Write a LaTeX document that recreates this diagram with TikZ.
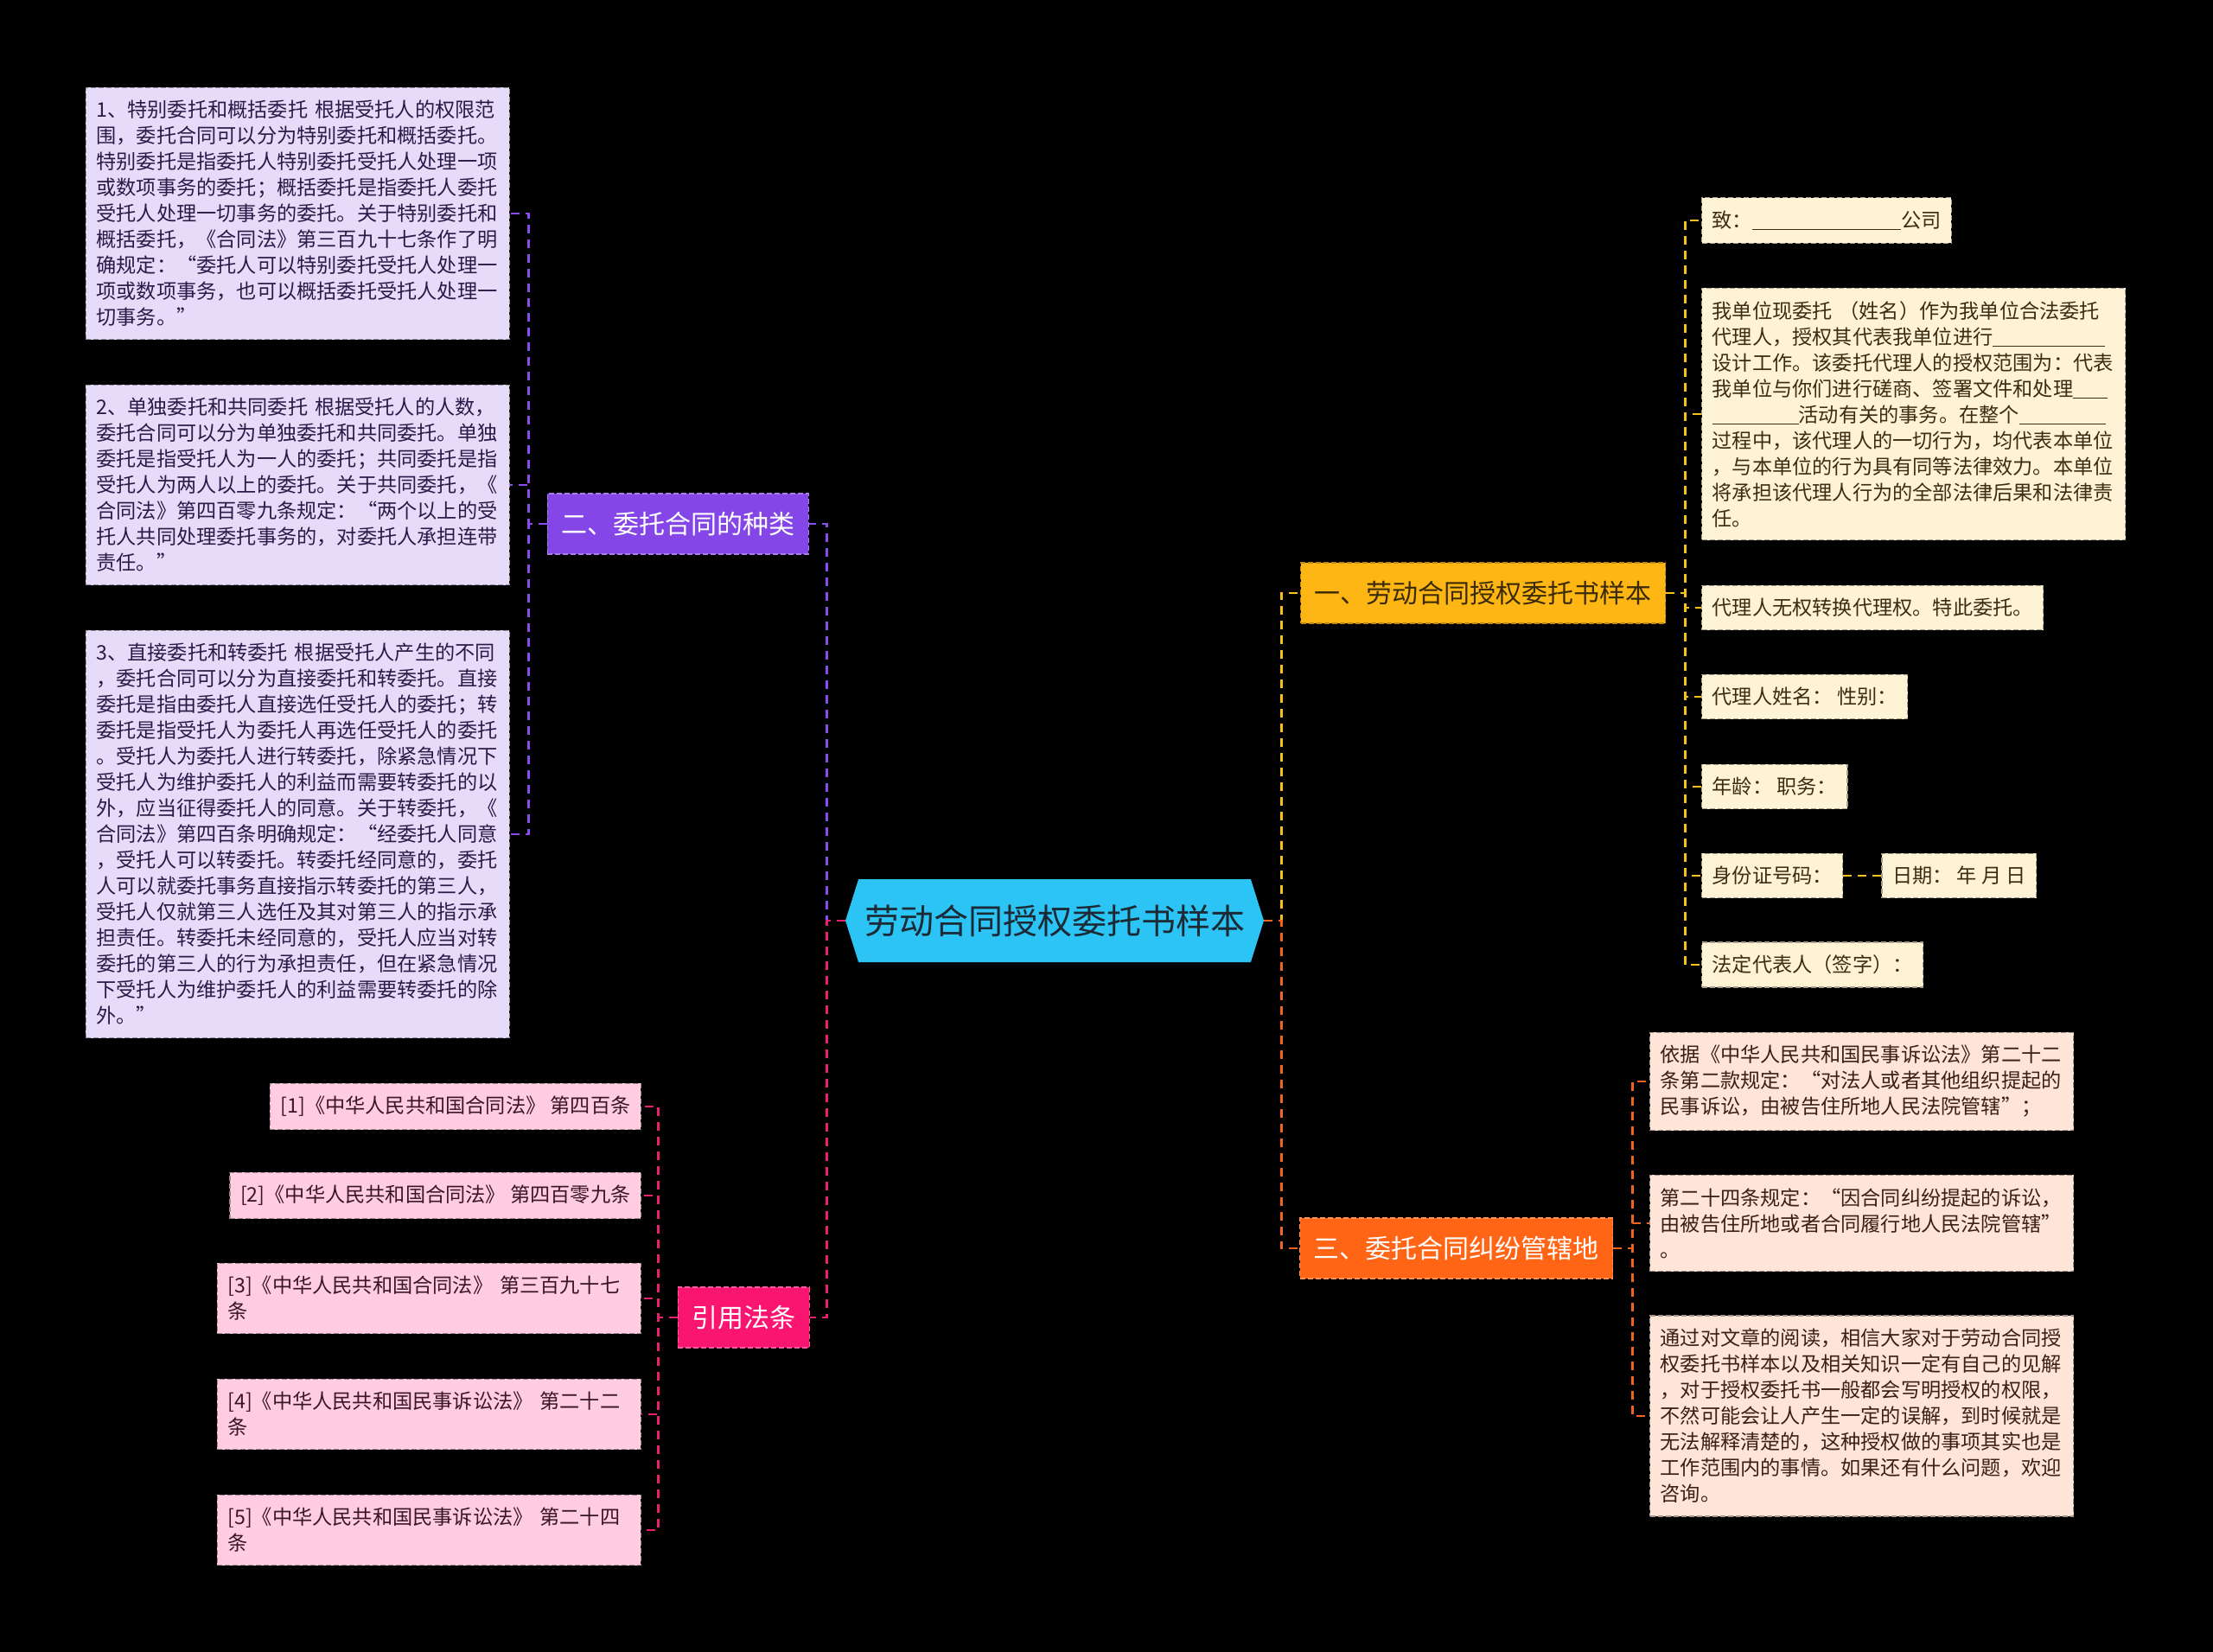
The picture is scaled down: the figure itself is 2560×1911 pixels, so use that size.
\documentclass[tikz,border=0pt]{standalone}
\usepackage{fontspec}
\setmainfont{Noto Sans CJK SC}
\usetikzlibrary{positioning,shapes.symbols}
\definecolor{mapbg}{HTML}{000000}
\definecolor{rootfill}{HTML}{2CC4F4}
\definecolor{rootink}{HTML}{1B2A35}
\definecolor{amberfill}{HTML}{FDB614}
\definecolor{amberink}{HTML}{3A2A05}
\definecolor{violetfill}{HTML}{8446E6}
\definecolor{rosefill}{HTML}{FA1670}
\definecolor{tangerinefill}{HTML}{FF6514}
\definecolor{violetleaf}{HTML}{E6DCFA}
\definecolor{violetink}{HTML}{2A1A48}
\definecolor{amberleaf}{HTML}{FFF3D6}
\definecolor{amberleafink}{HTML}{3A2E12}
\definecolor{roseleaf}{HTML}{FFCCE1}
\definecolor{roseink}{HTML}{3A1626}
\definecolor{tangerineleaf}{HTML}{FFE4D8}
\definecolor{tangerineink}{HTML}{3A2015}
\definecolor{violetline}{HTML}{8A4CEA}
\definecolor{roseline}{HTML}{E8206F}
\definecolor{amberline}{HTML}{F6C21A}
\definecolor{tangerineline}{HTML}{F2641E}
\newcommand{\blankline}[1]{\rule[-1.5pt]{#1}{0.6pt}}

\begin{document}
\begin{tikzpicture}[x=0.5pt, y=-0.5pt,
    link/.style={line width=1.25pt, dash pattern=on 5pt off 3.5pt},
    root/.style={signal, signal to=east and west, signal pointer angle=145,
                 fill=rootfill, text=rootink, inner sep=0pt,
                 minimum width=242pt, minimum height=48pt,
                 font=\fontsize{20}{24}\selectfont},
    branch/.style={font=\fontsize{15}{18}\selectfont, inner xsep=8pt, inner ysep=0pt,
                   minimum height=35pt, line width=0.7pt, dash pattern=on 3pt off 1.5pt},
    leaf/.style={font=\fontsize{11.6}{15}\selectfont, inner xsep=6pt, inner ysep=7.5pt,
                 align=left, line width=0.6pt, dash pattern=on 3pt off 1.5pt},
    wideleaf/.style={leaf, text width=233pt},
    violetbox/.style={fill=violetleaf, draw=violetleaf!65!black, text=violetink},
    amberbox/.style={fill=amberleaf, draw=amberleaf!65!black, text=amberleafink},
    rosebox/.style={fill=roseleaf, draw=roseleaf!65!black, text=roseink},
    tangerinebox/.style={fill=tangerineleaf, draw=tangerineleaf!65!black, text=tangerineink}]

  %% 背景
  \fill[mapbg] (0,0) rectangle (2560,1911);

  %% 中心主题
  \node[root] (root) at (1220,1065) {劳动合同授权委托书样本};

  %% 一级分支
  \node[branch, fill=amberfill, draw=amberfill!75!black, text=amberink, anchor=west]
    (b1) at (1504,686) {一、劳动合同授权委托书样本};
  \node[branch, fill=violetfill, draw=violetfill!70!white, text=white, anchor=east]
    (b2) at (936,606) {二、委托合同的种类};
  \node[branch, fill=tangerinefill, draw=tangerinefill!70!white, text=white, anchor=west]
    (b3) at (1503,1444) {三、委托合同纠纷管辖地};
  \node[branch, fill=rosefill, draw=rosefill!70!white, text=white, anchor=east]
    (b4) at (937,1524) {引用法条};

  %% 二、委托合同的种类
  \node[wideleaf, violetbox, anchor=east] (l1) at (590,247)
    {1、特别委托和概括委托~根据受托人的权限范\\
     围，委托合同可以分为特别委托和概括委托。\\
     特别委托是指委托人特别委托受托人处理一项\\
     或数项事务的委托；概括委托是指委托人委托\\
     受托人处理一切事务的委托。关于特别委托和\\
     概括委托，《合同法》第三百九十七条作了明\\
     确规定：“委托人可以特别委托受托人处理一\\
     项或数项事务，也可以概括委托受托人处理一\\
     切事务。”};
  \node[wideleaf, violetbox, anchor=east] (l2) at (590,561)
    {2、单独委托和共同委托~根据受托人的人数，\\
     委托合同可以分为单独委托和共同委托。单独\\
     委托是指受托人为一人的委托；共同委托是指\\
     受托人为两人以上的委托。关于共同委托，《\\
     合同法》第四百零九条规定：“两个以上的受\\
     托人共同处理委托事务的，对委托人承担连带\\
     责任。”};
  \node[wideleaf, violetbox, anchor=east] (l3) at (590,965)
    {3、直接委托和转委托~根据受托人产生的不同\\
     ，委托合同可以分为直接委托和转委托。直接\\
     委托是指由委托人直接选任受托人的委托；转\\
     委托是指受托人为委托人再选任受托人的委托\\
     。受托人为委托人进行转委托，除紧急情况下\\
     受托人为维护委托人的利益而需要转委托的以\\
     外，应当征得委托人的同意。关于转委托，《\\
     合同法》第四百条明确规定：“经委托人同意\\
     ，受托人可以转委托。转委托经同意的，委托\\
     人可以就委托事务直接指示转委托的第三人，\\
     受托人仅就第三人选任及其对第三人的指示承\\
     担责任。转委托未经同意的，受托人应当对转\\
     委托的第三人的行为承担责任，但在紧急情况\\
     下受托人为维护委托人的利益需要转委托的除\\
     外。”};

  %% 引用法条
  \node[leaf, rosebox, anchor=east] (c1) at (742,1280)
    {[1]《中华人民共和国合同法》~第四百条};
  \node[leaf, rosebox, anchor=east] (c2) at (742,1383)
    {[2]《中华人民共和国合同法》~第四百零九条};
  \node[wideleaf, rosebox, anchor=east] (c3) at (742,1502)
    {[3]《中华人民共和国合同法》~第三百九十七\\条};
  \node[wideleaf, rosebox, anchor=east] (c4) at (742,1636)
    {[4]《中华人民共和国民事诉讼法》~第二十二\\条};
  \node[wideleaf, rosebox, anchor=east] (c5) at (742,1770)
    {[5]《中华人民共和国民事诉讼法》~第二十四\\条};

  %% 一、劳动合同授权委托书样本
  \node[leaf, amberbox, anchor=west] (y1) at (1968,255)
    {致：\blankline{86pt}公司};
  \node[wideleaf, amberbox, anchor=west] (y2) at (1968,479)
    {我单位现委托~（姓名）作为我单位合法委托\\
     代理人，授权其代表我单位进行\blankline{65pt}\\
     设计工作。该委托代理人的授权范围为：代表\\
     我单位与你们进行磋商、签署文件和处理\blankline{20pt}\\
     \blankline{50pt}活动有关的事务。在整个\blankline{50pt}\\
     过程中，该代理人的一切行为，均代表本单位\\
     ，与本单位的行为具有同等法律效力。本单位\\
     将承担该代理人行为的全部法律后果和法律责\\
     任。};
  \node[leaf, amberbox, anchor=west] (y3) at (1968,703) {代理人无权转换代理权。特此委托。};
  \node[leaf, amberbox, anchor=west] (y4) at (1968,806) {代理人姓名：~性别：};
  \node[leaf, amberbox, anchor=west] (y5) at (1968,910) {年龄：~职务：};
  \node[leaf, amberbox, anchor=west] (y6) at (1968,1013) {身份证号码：};
  \node[leaf, amberbox, right=22pt of y6] (y6b) {日期：~年~月~日};
  \node[leaf, amberbox, anchor=west] (y7) at (1968,1116) {法定代表人（签字）：};

  %% 三、委托合同纠纷管辖地
  \node[wideleaf, tangerinebox, anchor=west] (o1) at (1908,1251)
    {依据《中华人民共和国民事诉讼法》第二十二\\
     条第二款规定：“对法人或者其他组织提起的\\
     民事诉讼，由被告住所地人民法院管辖”；};
  \node[wideleaf, tangerinebox, anchor=west] (o2) at (1908,1415)
    {第二十四条规定：“因合同纠纷提起的诉讼，\\
     由被告住所地或者合同履行地人民法院管辖”\\
     。};
  \node[wideleaf, tangerinebox, anchor=west] (o3) at (1908,1638)
    {通过对文章的阅读，相信大家对于劳动合同授\\
     权委托书样本以及相关知识一定有自己的见解\\
     ，对于授权委托书一般都会写明授权的权限，\\
     不然可能会让人产生一定的误解，到时候就是\\
     无法解释清楚的，这种授权做的事项其实也是\\
     工作范围内的事情。如果还有什么问题，欢迎\\
     咨询。};

  %% 中心到分支
  \draw[link, violetline] (root.west) -- ++(-21,0) |- (b2.east);
  \draw[link, roseline] (root.west) -- ++(-21,0) |- (b4.east);
  \draw[link, amberline] (root.east) -- ++(20,0) |- (b1.west);
  \draw[link, tangerineline] (root.east) -- ++(20,0) |- (b3.west);

  %% 分支到叶子
  \foreach \n in {l1,l2,l3}
    \draw[link, violetline] (b2.west) -- ++(-21,0) |- (\n.east);
  \foreach \n in {c1,c2,c3,c4,c5}
    \draw[link, roseline] (b4.west) -- ++(-22,0) |- (\n.east);
  \foreach \n in {y1,y2,y3,y4,y5,y6,y7}
    \draw[link, amberline] (b1.east) -- ++(22,0) |- (\n.west);
  \foreach \n in {o1,o2,o3}
    \draw[link, tangerineline] (b3.east) -- ++(22,0) |- (\n.west);
  \draw[link, amberline] (y6.east) -- (y6b.west);

\end{tikzpicture}
\end{document}
